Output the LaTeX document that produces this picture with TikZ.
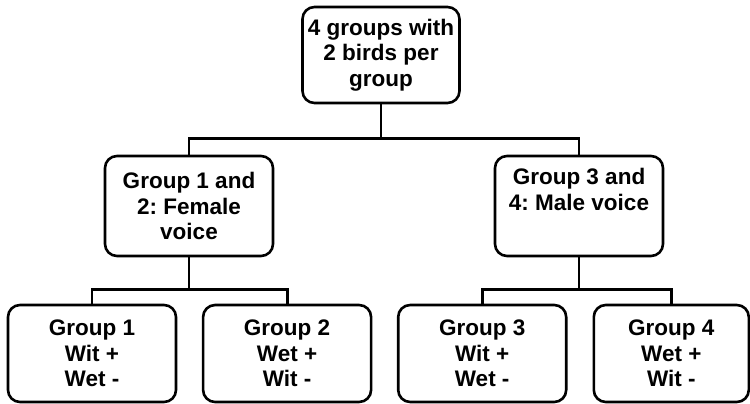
\documentclass[tikz,border=0pt]{standalone}
\usepackage{fontspec}
\setmainfont{Liberation Sans}
\usetikzlibrary{positioning,calc}
\definecolor{ink}{HTML}{000000}
\newcommand{\bx}{\fontsize{22.5pt}{25.5pt}\selectfont\bfseries\frenchspacing}
\tikzset{
  box/.style={draw=ink, line width=2.6pt, rounded corners=12pt, fill=white,
    align=center, inner sep=4pt, text=ink, font=\bx},
  conn/.style={draw=ink, line width=2.8pt},
}

\begin{document}
\begin{tikzpicture}[x=1pt, y=1pt]
    \useasboundingbox (0,0) rectangle (750,-404);
    \tikzset{top/.style={minimum width=157pt, minimum height=96pt},
      mid/.style={minimum width=168pt, minimum height=100pt},
      low/.style={minimum width=168pt, minimum height=97pt}}
    \node[box, top] (root) at (381,-55) {4 groups with\\2 birds per\\group};
    \node[box, mid] (g12) at (189,-206) {Group 1 and\\2: Female\\voice};
    \node[box, mid] (g34) at (579,-206) {Group 3 and\\4: Male voice\\\strut};
    \node[box, low] (b1) at (92,-353.5) {Group 1\\Wit +\\Wet -};
    \node[box, low, right=24.5pt of b1] (b2) {Group 2\\Wet +\\Wit -};
    \node[box, low, right=24.5pt of b2] (b3) {Group 3\\Wit +\\Wet -};
    \node[box, low, minimum width=155pt, right=25pt of b3] (b4) {Group 4\\Wet +\\Wit -};
    % branches
    \draw[conn] (root.south) -- ++(0,-34) coordinate (j0);
    \draw[conn] (j0) -| (g12.north);
    \draw[conn] (j0) -| (g34.north);
    \draw[conn] (g12.south) -- ++(0,-32) coordinate (j1);
    \draw[conn] (j1) -| (b1.north);
    \draw[conn] (j1) -| (b2.north);
    \draw[conn] (g34.south) -- ++(0,-32) coordinate (j2);
    \draw[conn] (j2) -| (b3.north);
    \draw[conn] (j2) -| (b4.north);
  \end{tikzpicture}
\end{document}
